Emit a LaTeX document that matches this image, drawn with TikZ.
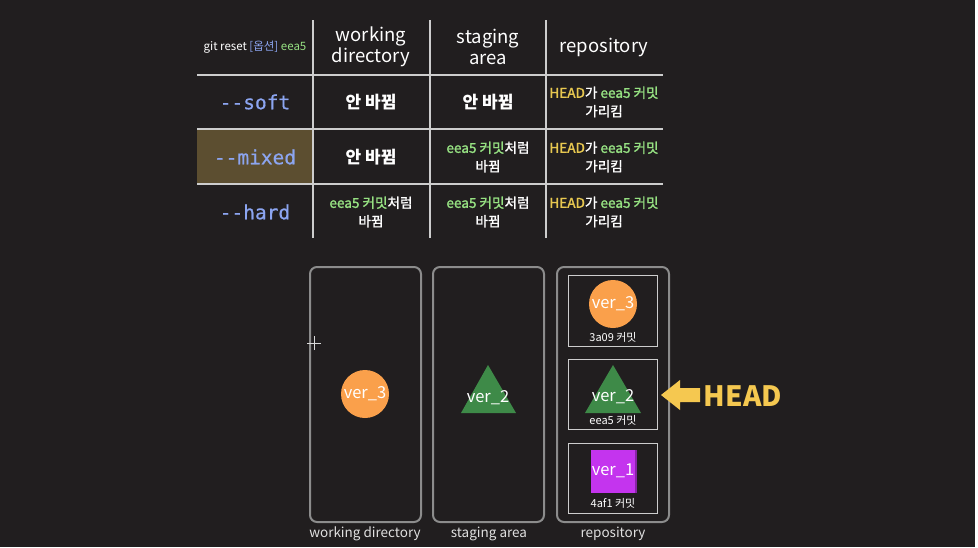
\documentclass[tikz,border=0pt]{standalone}
\usepackage{fontspec}
\setmainfont{Noto Sans CJK KR}
\newfontfamily\medf{Noto Sans CJK KR}[FakeBold=1.6]
\newfontfamily\monof{DejaVu Sans Mono}[FakeBold=0.6]
\usetikzlibrary{shapes.geometric}
\definecolor{bgc}{RGB}{33,30,31}
\definecolor{gridc}{RGB}{205,205,205}
\definecolor{optc}{RGB}{140,165,240}
\definecolor{hlc}{RGB}{92,78,48}
\definecolor{grn}{RGB}{150,225,130}
\definecolor{yel}{RGB}{232,200,80}
\definecolor{boxc}{RGB}{140,140,140}
\definecolor{orng}{RGB}{250,160,75}
\definecolor{trig}{RGB}{62,138,72}
\definecolor{purp}{RGB}{196,52,238}
\definecolor{arrc}{RGB}{245,200,80}
\tikzset{
  grid/.style={draw=gridc, line width=1.3pt},
  opt/.style={text=optc, font=\monof\fontsize{19.5}{22}\selectfont, anchor=center},
  head/.style={text=white, font=\fontsize{18.5}{21}\selectfont, align=center, anchor=center},
  cellbig/.style={text=white, font=\bfseries\fontsize{17}{20}\selectfont, align=center, anchor=center},
  cellsm/.style={text=white, font=\medf\fontsize{13.6}{18.5}\selectfont, align=center, anchor=center},
  panel/.style={draw=boxc, line width=2pt, rounded corners=7pt},
  inner/.style={draw=gridc, line width=1pt},
  plabel/.style={text=white!88!black, font=\fontsize{13.5}{15}\selectfont, anchor=center},
  verlbl/.style={text=white, font=\fontsize{16.5}{18}\selectfont, anchor=center},
  cmlbl/.style={text=white, font=\fontsize{11}{13}\selectfont, anchor=center},
}
\begin{document}
\begin{tikzpicture}[x=1pt,y=-1pt]
\fill[bgc] (0,0) rectangle (978,547);
\useasboundingbox (0,0) rectangle (978,547);
\fill[white] (975,0) rectangle (978,547);
% highlight
\fill[hlc] (197,130) rectangle (313,183);
% grid
\draw[grid] (197,75) -- (663,75);
\draw[grid] (197,129) -- (663,129);
\draw[grid] (197,184) -- (663,184);
\draw[grid] (313,20) -- (313,238);
\draw[grid] (430,20) -- (430,238);
\draw[grid] (546,20) -- (546,238);
% header
\node[text=white, font=\fontsize{11.5}{13}\selectfont] (cmd) at (255,47) {git reset \textcolor{optc}{[옵션]} \textcolor{grn}{eea5}};
\node[head] (hwd) at (371,47) {working\\directory};
\node[head] (hsa) at (488,47) {staging\\area};
\node[head] (hrp) at (604,47) {repository};
% rows
\node[opt] (soft) at (255,102) {-{}-soft};
\node[opt] (mixed) at (255,157) {-{}-mixed};
\node[opt] (hard) at (255,212) {-{}-hard};
\node[cellbig] (s1) at (371,102) {안 바뀜};
\node[cellbig] (s2) at (488,102) {안 바뀜};
\node[cellsm] (s3) at (604,102) {\textcolor{yel}{HEAD}가 \textcolor{grn}{eea5 커밋}\\가리킴};
\node[cellbig] (m1) at (371,157) {안 바뀜};
\node[cellsm] (m2) at (488,157) {\textcolor{grn}{eea5 커밋}처럼\\바뀜};
\node[cellsm] (m3) at (604,157) {\textcolor{yel}{HEAD}가 \textcolor{grn}{eea5 커밋}\\가리킴};
\node[cellsm] (h1) at (371,212) {\textcolor{grn}{eea5 커밋}처럼\\바뀜};
\node[cellsm] (h2) at (488,212) {\textcolor{grn}{eea5 커밋}처럼\\바뀜};
\node[cellsm] (h3) at (604,212) {\textcolor{yel}{HEAD}가 \textcolor{grn}{eea5 커밋}\\가리킴};
% panels
\draw[panel] (310,267) rectangle (421,522);
\draw[panel] (433,267) rectangle (544,522);
\draw[panel] (557,267) rectangle (669,522);
\node[plabel] (lwd) at (365,534) {working directory};
\node[plabel] (lsa) at (489,534) {staging area};
\node[plabel] (lrp) at (613,534) {repository};
% working dir content
\fill[orng] (365,394) circle (24);
\node[verlbl] (wv3) at (365,394) {ver\_3};
% staging content
\fill[trig] (488,365) -- (516,413) -- (461,413) -- cycle;
\node[verlbl] (sv2) at (488,398) {ver\_2};
% repository commits
\draw[inner] (568,275) rectangle (657,346);
\draw[inner] (568,359) rectangle (657,429);
\draw[inner] (568,443) rectangle (657,513);
\fill[orng] (613,304) circle (24);
\node[verlbl] (rv3) at (613,304) {ver\_3};
\node[cmlbl] (c3) at (613,337) {3a09 커밋};
\fill[trig] (613,365) -- (641,413) -- (585,413) -- cycle;
\node[verlbl] (rv2) at (613,397) {ver\_2};
\node[cmlbl] (c2) at (613,420) {eea5 커밋};
\fill[purp!70!black] (591,450) rectangle (637,493);
\fill[purp] (591,450) rectangle (635,493);
\node[verlbl] (rv1) at (613,471) {ver\_1};
\node[cmlbl] (c1) at (613,503) {4af1 커밋};
% HEAD arrow
\fill[arrc] (661,395) -- (680,380) -- (680,388) -- (700,388) -- (700,402) -- (680,402) -- (680,410) -- cycle;
\node[text=arrc, font=\bfseries\fontsize{28}{30}\selectfont] (headlbl) at (743,396) {HEAD};
% cursor
\draw[white!85!black, line width=1pt] (307,343) -- (321,343) (314,336) -- (314,350);
\end{tikzpicture}
\end{document}
